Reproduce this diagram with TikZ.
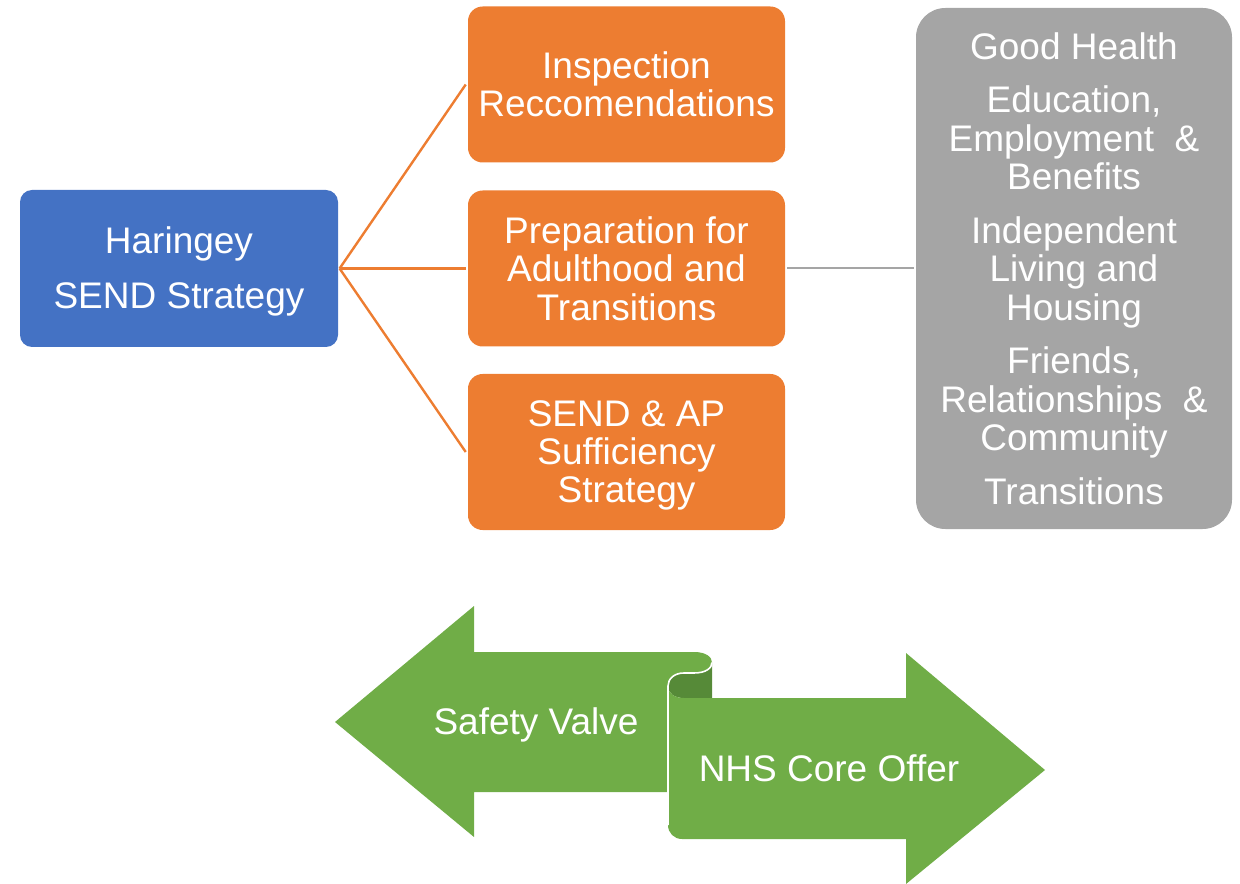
\documentclass[tikz,border=0pt]{standalone}
\usepackage{fontspec}
\setmainfont{Liberation Sans}
\definecolor{blueC}{HTML}{4472C4}
\definecolor{orangeC}{HTML}{ED7D31}
\definecolor{grayC}{HTML}{A5A5A5}
\definecolor{greenC}{HTML}{70AD47}
\definecolor{darkG}{HTML}{568A38}
\newcommand{\upstrut}{\rule{0pt}{24.4pt}}
\begin{document}
\begin{tikzpicture}[x=0.75pt,y=-0.75pt,
  obox/.style={fill=orangeC, rounded corners=11pt, minimum width=237.75pt, minimum height=117pt,
    text=white, align=center, inner sep=0pt, font=\fontsize{27.75}{28.75}\selectfont},
  bbox/.style={fill=blueC, rounded corners=9pt, minimum width=238.5pt, minimum height=117.75pt,
    text=white, align=center, inner sep=0pt, font=\fontsize{27.75}{41}\selectfont},
  gbox/.style={fill=grayC, rounded corners=22pt, minimum width=237pt, minimum height=390.75pt,
    text=white, align=center, inner sep=0pt, font=\fontsize{27.75}{28.9}\selectfont},
  oline/.style={draw=orangeC, line width=1.8pt},
  gline/.style={draw=grayC, line width=1.5pt},
  atext/.style={text=white, inner sep=0pt, anchor=base, font=\fontsize{27.75}{28.75}\selectfont}]
\useasboundingbox (0,0) rectangle (1240,884);

% boxes
\node[bbox] (hs) at (179,268.5) {\upstrut Haringey\\SEND Strategy};
\node[obox] (insp) at (626.5,84.5) {Inspection\\Reccomendations};
\node[obox] (prep) at (626.5,268.5) {Preparation for\\Adulthood and\\Transitions};
\node[obox] (suff) at (626.5,452) {\upstrut SEND \& AP\\Sufficiency\\Strategy};
\node[gbox] (out) at (1074,268.5) {Good Health\\[11.25pt]Education,\\Employment\ \ \&\\Benefits\\[11.25pt]Independent\\Living and\\Housing\\[11.25pt]Friends,\\Relationships\ \ \&\\Community\\[11.25pt]Transitions};

% connectors
\draw[oline] ([xshift=1pt]hs.east) -- ([xshift=-1.5pt]insp.west);
\draw[oline] ([xshift=1pt]hs.east) -- ([xshift=-1.5pt]prep.west);
\draw[oline] ([xshift=1pt]hs.east) -- ([xshift=-1.5pt]suff.west);
\draw[gline] ([xshift=1.5pt]prep.east) -- ([xshift=-1.5pt]out.west);

% scroll arrows
\fill[darkG] (668,686) .. controls (668,679) and (674,673) .. (684,673) -- (694,673)
  .. controls (706,673) and (712,668) .. (712,662.5) -- (712,698) -- (684,698)
  .. controls (674,698) and (668,693) .. (668,686) -- cycle;
\fill[greenC] (335,722) -- (474,606) -- (474,652) -- (694,652)
  .. controls (706,652) and (712,657) .. (712,662.5)
  .. controls (712,668) and (706,673) .. (694,673) -- (684,673)
  .. controls (674,673) and (668,679) .. (668,686) -- (668,792) -- (474,792) -- (474,837) -- cycle;
\fill[greenC] (668,686) .. controls (668,693) and (674,698) .. (684,698) -- (906,698) -- (906,653)
  -- (1045,770) -- (906,884) -- (906,839) -- (682,839)
  .. controls (674,839) and (668,833) .. (668,825) -- cycle;
\draw[white, line width=1.2pt] (712,662.5) .. controls (712,668) and (706,673) .. (694,673) -- (684,673)
  .. controls (674,673) and (668,679) .. (668,686) -- (668,825);

\node[atext] (sv) at (536,734) {Safety Valve};
\node[atext] (nhs) at (829,781) {NHS Core Offer};
\end{tikzpicture}
\end{document}
